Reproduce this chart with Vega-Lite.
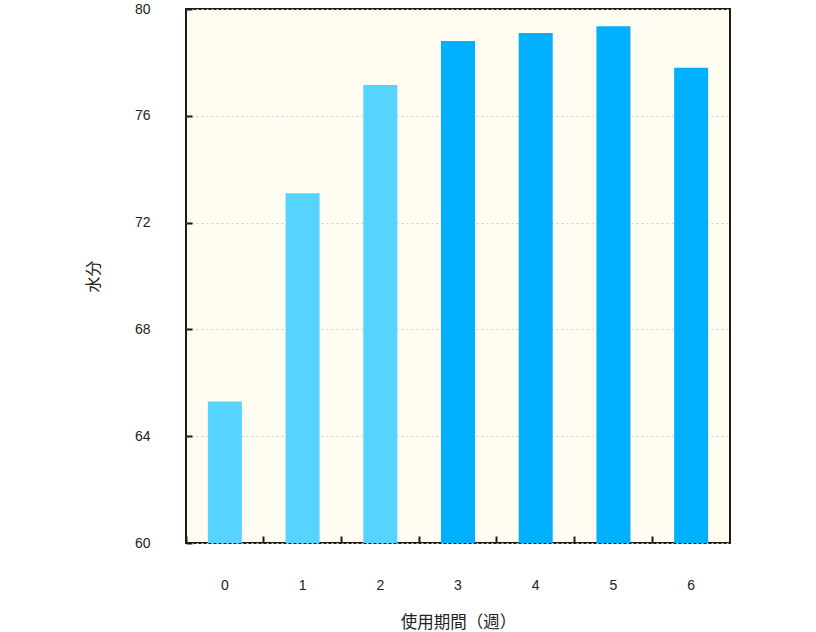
{
  "$schema": "https://vega.github.io/schema/vega-lite/v6.json",
  "width": 544,
  "height": 534,
  "autosize": {"type": "none"},
  "padding": {"left": 186, "top": 9, "right": 86, "bottom": 89},
  "background": "#ffffff",
  "config": {
    "view": {"fill": "#FFFCF2", "stroke": "#231815", "strokeWidth": 2},
    "font": "Liberation Sans"
  },
  "data": {
    "values": [
      {"week": "0", "moisture": 65.3, "phase": "early"},
      {"week": "1", "moisture": 73.1, "phase": "early"},
      {"week": "2", "moisture": 77.15, "phase": "early"},
      {"week": "3", "moisture": 78.8, "phase": "late"},
      {"week": "4", "moisture": 79.1, "phase": "late"},
      {"week": "5", "moisture": 79.35, "phase": "late"},
      {"week": "6", "moisture": 77.8, "phase": "late"}
    ]
  },
  "mark": {"type": "bar", "width": 34, "clip": true},
  "encoding": {
    "x": {
      "field": "week",
      "type": "ordinal",
      "scale": {"paddingInner": 0, "paddingOuter": 0},
      "axis": {
        "title": "使用期間（週）",
        "titleFont": "Noto Sans CJK JP",
        "titleFontSize": 16.5,
        "titleFontWeight": "normal",
        "titleColor": "#222222",
        "titleY": 79,
        "titleBaseline": "middle",
        "labelAngle": 0,
        "labelFontSize": 14,
        "labelColor": "#222222",
        "labelPadding": 42,
        "bandPosition": 0,
        "ticks": true,
        "tickSize": -7,
        "tickWidth": 2,
        "tickColor": "#231815",
        "domain": false,
        "grid": false
      }
    },
    "y": {
      "field": "moisture",
      "type": "quantitative",
      "scale": {"domain": [60, 80], "nice": false, "zero": false},
      "axis": {
        "title": "水分",
        "titleFont": "Noto Sans CJK JP",
        "titleFontSize": 16,
        "titleFontWeight": "normal",
        "titleColor": "#222222",
        "titleX": -93,
        "titleY": 267,
        "titleBaseline": "middle",
        "titleAngle": -90,
        "values": [60, 64, 68, 72, 76, 80],
        "labelFontSize": 14,
        "labelColor": "#222222",
        "labelPadding": 42,
        "tickSize": -6,
        "tickWidth": 2,
        "tickColor": "#231815",
        "domain": false,
        "grid": true,
        "gridColor": "#cccccc",
        "gridDash": [2, 3],
        "gridWidth": 1
      }
    },
    "color": {
      "field": "phase",
      "type": "nominal",
      "scale": {"domain": ["early", "late"], "range": ["#55D4FF", "#00B0FF"]},
      "legend": null
    }
  }
}
